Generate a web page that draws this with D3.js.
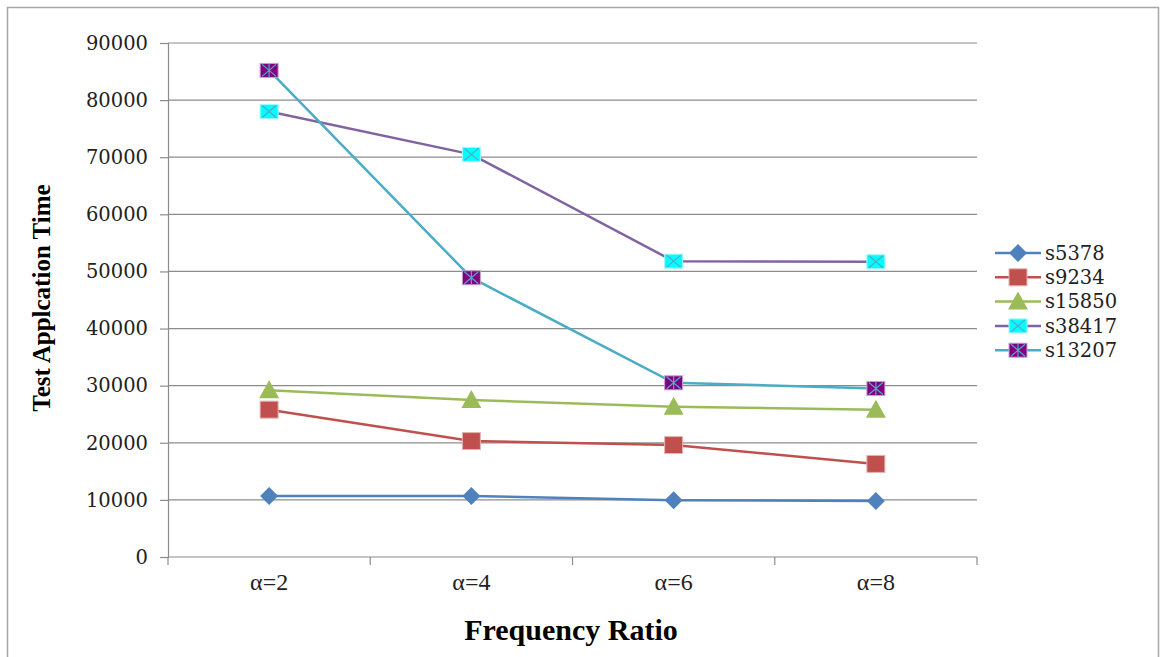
<!DOCTYPE html>
<html>
<head>
<meta charset="utf-8">
<script src="https://cdn.jsdelivr.net/npm/d3@7"></script>
<style>
  body { margin: 0; background: #fff; }
  svg { display: block; }
</style>
</head>
<body>
<svg id="chart"></svg>
<script>
const categories = ["α=2", "α=4", "α=6", "α=8"];
const yTicks = [0, 10000, 20000, 30000, 40000, 50000, 60000, 70000, 80000, 90000];

const s5378 = [10700, 10700, 9950, 9800];
const s9234 = [25800, 20300, 19600, 16300];
const s15850 = [29200, 27500, 26300, 25800];
const s38417 = [78000, 70500, 51800, 51700];
const s13207 = [85200, 48900, 30500, 29500];

const seriesList = [
    { name: "s5378", values: s5378, line: "#4F81BD", fill: "#4F81BD", marker: "diamond" },
    { name: "s9234", values: s9234, line: "#C0504D", fill: "#C0504D", marker: "square" },
    { name: "s15850", values: s15850, line: "#9BBB59", fill: "#9BBB59", marker: "triangle" },
    { name: "s38417", values: s38417, line: "#8064A2", fill: "#00FFFF", marker: "xbox" },
    { name: "s13207", values: s13207, line: "#4BACC6", fill: "#800080", marker: "star" }
];

const W = 1162, H = 657;
const area = { left: 168, right: 977, top: 43, bottom: 557 };

const svg = d3.select("#chart").attr("width", W).attr("height", H);

// outer frame
svg.append("rect")
    .attr("x", 7.5).attr("y", 7.5)
    .attr("width", 1151).attr("height", 660)
    .attr("fill", "none").attr("stroke", "#a6a6a6").attr("stroke-width", 1.5);

const scaleX = d3.scaleBand()
    .domain(categories)
    .range([area.left, area.right]);

const scaleY = d3.scaleLinear()
    .domain([0, 90000])
    .range([area.bottom, area.top]);

// gridlines
svg.append("g")
    .selectAll("line")
    .data(yTicks.filter(d => d > 0))
    .enter()
    .append("line")
    .attr("x1", area.left).attr("x2", area.right)
    .attr("y1", d => scaleY(d)).attr("y2", d => scaleY(d))
    .attr("stroke", "#8c8c8c").attr("stroke-width", 1.2);

// y axis
const axisY = d3.axisLeft(scaleY).tickValues(yTicks).tickSize(8).tickPadding(12).tickFormat(d3.format("d"));
const gY = svg.append("g")
    .attr("transform", `translate(${area.left},0)`)
    .call(axisY);
gY.select(".domain").attr("stroke", "#8c8c8c").attr("stroke-width", 1.2);
gY.selectAll(".tick line").attr("stroke", "#8c8c8c").attr("stroke-width", 1.2);
gY.selectAll("text")
    .style("font-family", "'DejaVu Serif', serif")
    .style("font-size", "19.5px")
    .attr("fill", "#222");

// x axis
const axisX = d3.axisBottom(scaleX).tickSize(0).tickPadding(16);
const gX = svg.append("g")
    .attr("transform", `translate(0,${area.bottom})`)
    .call(axisX);
gX.select(".domain").attr("stroke", "#8c8c8c").attr("stroke-width", 1.2)
    .attr("d", `M${area.left},0H${area.right}`);
gX.selectAll("text")
    .style("font-family", "'Liberation Serif', serif")
    .style("font-size", "24px")
    .attr("fill", "#222");
// boundary ticks between categories
const boundaries = categories.map(c => scaleX(c)).concat([area.right]);
gX.selectAll(".bnd")
    .data(boundaries)
    .enter()
    .append("line")
    .attr("x1", d => d).attr("x2", d => d)
    .attr("y1", 0).attr("y2", 8)
    .attr("stroke", "#8c8c8c").attr("stroke-width", 1.2);

// axis titles
svg.append("text")
    .attr("x", 571).attr("y", 640)
    .attr("text-anchor", "middle")
    .style("font-family", "'Liberation Serif', serif")
    .style("font-weight", "bold")
    .style("font-size", "30px")
    .text("Frequency Ratio");

svg.append("text")
    .attr("transform", "translate(50,298) rotate(-90)")
    .attr("text-anchor", "middle")
    .style("font-family", "'Liberation Serif', serif")
    .style("font-weight", "bold")
    .style("font-size", "25px")
    .text("Test Applcation Time");

function drawMarker(g, s, cx, cy) {
    const m = g.append("g").attr("transform", `translate(${cx},${cy})`);
    if (s.marker === "diamond") {
        m.append("path").attr("d", "M0,-9L9,0L0,9L-9,0Z").attr("fill", s.fill);
    } else if (s.marker === "square") {
        m.append("rect").attr("x", -9).attr("y", -8.5).attr("width", 18).attr("height", 17)
            .attr("fill", s.fill).attr("stroke", "#e6b3b2").attr("stroke-width", 1);
    } else if (s.marker === "triangle") {
        m.append("path").attr("d", "M0,-10L10,8L-10,8Z").attr("fill", s.fill);
    } else if (s.marker === "xbox") {
        m.append("rect").attr("x", -9).attr("y", -7).attr("width", 18).attr("height", 14)
            .attr("fill", s.fill).attr("stroke", "#9ff").attr("stroke-width", 1);
        m.append("path").attr("d", "M-7,-6L7,6M-7,6L7,-6").attr("stroke", "#4BACC6").attr("stroke-width", 1.2);
    } else if (s.marker === "star") {
        m.append("rect").attr("x", -9).attr("y", -7).attr("width", 18).attr("height", 14)
            .attr("fill", s.fill).attr("stroke", "#c9a0d0").attr("stroke-width", 1);
        m.append("path").attr("d", "M-7,-6L7,6M-7,6L7,-6M0,-7L0,7").attr("stroke", "#4BACC6").attr("stroke-width", 1.2);
    }
}

const line = d3.line()
    .x((d, i) => scaleX(categories[i]) + scaleX.bandwidth() / 2)
    .y(d => scaleY(d));

seriesList.forEach(s => {
    svg.append("path")
        .datum(s.values)
        .attr("fill", "none")
        .attr("stroke", s.line)
        .attr("stroke-width", 2.5)
        .attr("d", line);
});

seriesList.forEach(s => {
    const g = svg.append("g");
    s.values.forEach((v, i) => {
        drawMarker(g, s, scaleX(categories[i]) + scaleX.bandwidth() / 2, scaleY(v));
    });
});

// legend
const legend = svg.append("g").attr("transform", "translate(995,253)");
seriesList.forEach((s, i) => {
    const row = legend.append("g").attr("transform", `translate(0,${i * 24.3})`);
    row.append("line").attr("x1", 0).attr("x2", 46).attr("y1", 0).attr("y2", 0)
        .attr("stroke", s.line).attr("stroke-width", 2.5);
    drawMarker(row, s, 23, 0);
    row.append("text")
        .attr("x", 50).attr("y", 0).attr("dy", "0.35em")
        .style("font-family", "'DejaVu Serif', serif")
        .style("font-size", "19.5px")
        .attr("fill", "#222")
        .text(s.name);
});
</script>
</body>
</html>
